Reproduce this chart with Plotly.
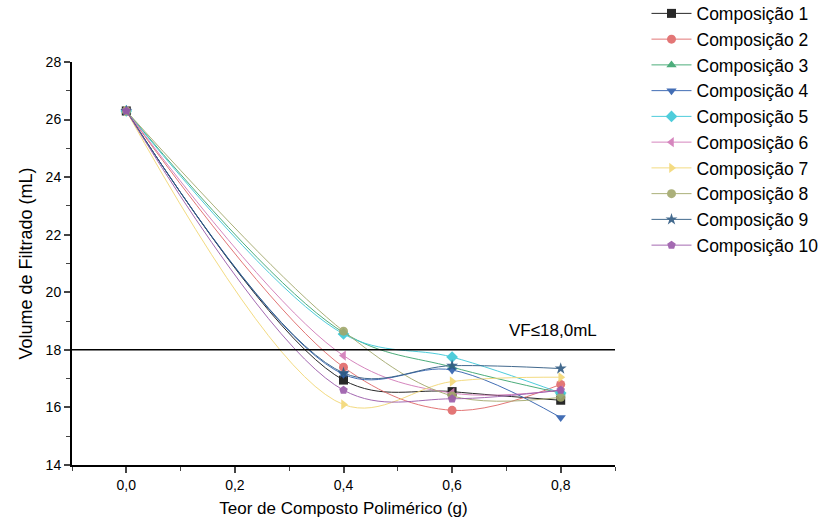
import plotly.graph_objects as go

x_vals = [0.0, 0.4, 0.6, 0.8]

names = ["Composição 1", "Composição 2", "Composição 3", "Composição 4", "Composição 5",
         "Composição 6", "Composição 7", "Composição 8", "Composição 9", "Composição 10"]

comp1 = [26.3, 16.95, 16.55, 16.25]
comp2 = [26.3, 17.40, 15.90, 16.80]
comp3 = [26.3, 18.60, 17.40, 16.50]
comp4 = [26.3, 17.15, 17.30, 15.65]
comp5 = [26.3, 18.55, 17.75, 16.50]
comp6 = [26.3, 17.80, 16.50, 16.60]
comp7 = [26.3, 16.10, 16.90, 17.05]
comp8 = [26.3, 18.65, 16.40, 16.35]
comp9 = [26.3, 17.20, 17.45, 17.35]
comp10 = [26.3, 16.60, 16.30, 16.60]
series = [comp1, comp2, comp3, comp4, comp5, comp6, comp7, comp8, comp9, comp10]

colors = ["#111111", "#e06868", "#3aa56e", "#2f5fae", "#3cc8d8",
          "#d27ab8", "#f3d875", "#a3a86c", "#2f5a82", "#9b5aaa"]
symbols = ["square", "circle", "triangle-up", "triangle-down", "diamond",
           "triangle-left", "triangle-right", "circle", "star", "pentagon"]

limit_value = 18.0
limit_label = "VF≤18,0mL"

fig = go.Figure()
for name, ys, c, s in zip(names, series, colors, symbols):
    fig.add_trace(go.Scatter(
        x=x_vals, y=ys, name=name, mode="lines+markers",
        line=dict(color=c, width=1, shape="spline", smoothing=1.0),
        marker=dict(color=c, symbol=s, size=9),
        opacity=0.9,
    ))

fig.add_shape(type="line", xref="x", yref="y", x0=-0.1, x1=0.9,
              y0=limit_value, y1=limit_value, line=dict(color="black", width=1.5))
fig.add_annotation(x=0.785, y=18.68, xref="x", yref="y", text=limit_label,
                   showarrow=False, font=dict(size=17, color="black"))

fig.update_layout(
    width=836, height=528,
    margin=dict(l=72, r=221, t=62, b=63, autoexpand=False),
    paper_bgcolor="white", plot_bgcolor="white",
    separators=",.",
    font=dict(family="Liberation Sans, Arial, sans-serif", color="black"),
    legend=dict(x=1.058, y=1.165, xanchor="left", yanchor="top",
                font=dict(size=17.5), tracegroupgap=0, itemwidth=40,
                bgcolor="rgba(0,0,0,0)", maxheight=500),
    showlegend=True,
)
fig.update_xaxes(range=[-0.1, 0.9], dtick=0.2, tick0=0, tickformat=".1f",
                 showgrid=False, zeroline=False, showline=True, linecolor="black",
                 linewidth=2, ticks="outside", ticklen=6, tickwidth=1.5,
                 tickfont=dict(size=14),
                 minor=dict(dtick=0.1, ticks="outside", ticklen=4, tickwidth=1.2),
                 title=dict(text="Teor de Composto Polimérico (g)", font=dict(size=17),
                            standoff=10))
fig.update_yaxes(range=[14, 28], dtick=2, tick0=14,
                 showgrid=False, zeroline=False, showline=True, linecolor="black",
                 linewidth=2, ticks="outside", ticklen=6, tickwidth=1.5,
                 tickfont=dict(size=14),
                 minor=dict(dtick=1, ticks="outside", ticklen=4, tickwidth=1.2),
                 title=dict(text="Volume de Filtrado (mL)", font=dict(size=18),
                            standoff=8))

fig.write_html("out.html")
